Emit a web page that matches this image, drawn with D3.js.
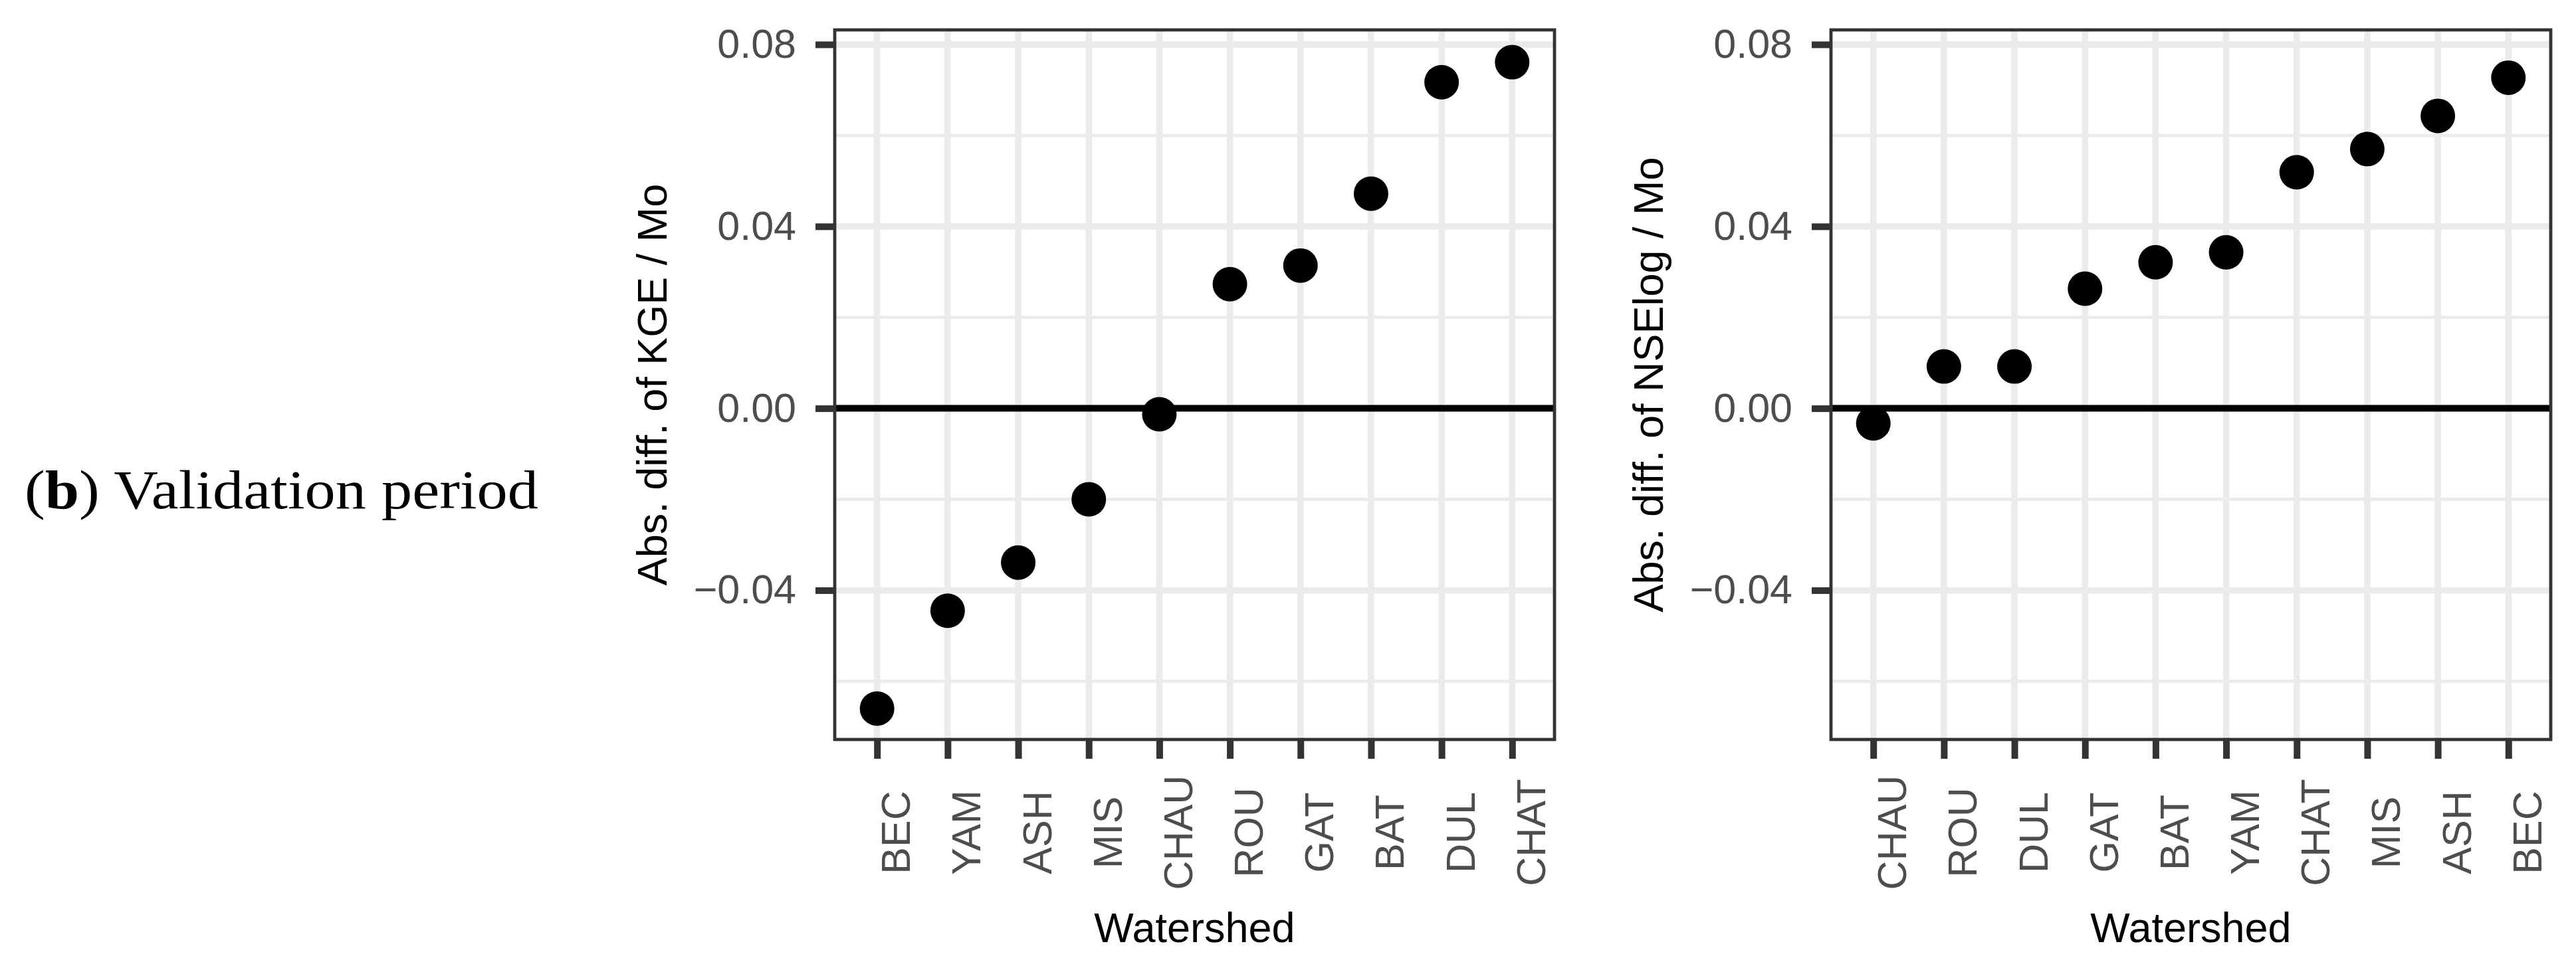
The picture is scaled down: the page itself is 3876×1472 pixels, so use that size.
<!DOCTYPE html>
<html>
<head>
<meta charset="utf-8">
<title>Validation period - abs. diff. per watershed</title>
<script src="https://cdn.jsdelivr.net/npm/d3@7"></script>
<style>
	html, body { margin: 0; padding: 0; background: #ffffff; }
	svg { display: block; }
</style>
</head>
<body>
<div id="chart"></div>
<script>

/**
 * Two dot plots (KGE and NSElog) of the absolute difference per watershed,
 * validation period.
 */

// Left panel : KGE
var kgeWatersheds = ["BEC", "YAM", "ASH", "MIS", "CHAU", "ROU", "GAT", "BAT", "DUL", "CHAT"];
var kgeDiffs = [-0.0660, -0.0445, -0.0339, -0.0200, -0.0013, 0.0273, 0.0314, 0.0472, 0.0717, 0.0761];

// Right panel : NSElog
var nseWatersheds = ["CHAU", "ROU", "DUL", "GAT", "BAT", "YAM", "CHAT", "MIS", "ASH", "BEC"];
var nseDiffs = [-0.0033, 0.0092, 0.0092, 0.0263, 0.0321, 0.0343, 0.0519, 0.0570, 0.0643, 0.0727];

// Shared y axis
var yTickValues = [0.08, 0.04, 0.00, -0.04];
var yMinorValues = [0.06, 0.02, -0.02, -0.06];
var yDomain = [-0.0728, 0.0832];

var periodLabel = "Validation period";
var xTitle = "Watershed";

var W = 3876;
var H = 1472;
var panelTop = 45;
var panelHeight = 1068;
var panelWidth = 1083;

var sansFont = "'Liberation Sans', Arial, Helvetica, sans-serif";
var serifFont = "'Liberation Serif', 'Times New Roman', serif";

var svg = d3.select("#chart").append("svg")
			.attr("width", W)
			.attr("height", H)
			.attr("viewBox", "0 0 " + W + " " + H);

svg.append("rect")
	.attr("width", W)
	.attr("height", H)
	.attr("fill", "#ffffff");

/******************************************************
 * drawPanel
 *
 * Draws one ggplot-like theme_bw panel with its axes.
 *******************************************************/
function drawPanel(left, cats, values, yTitle) {

	console.log("drawPanel called for " + yTitle);

	var x = d3.scalePoint()
				.domain(cats)
				.range([0, panelWidth])
				.padding(0.6);

	var y = d3.scaleLinear()
				.domain(yDomain)
				.range([panelHeight, 0]);

	var g = svg.append("g")
				.attr("transform", "translate(" + left + "," + panelTop + ")");

	g.append("rect")
		.attr("width", panelWidth)
		.attr("height", panelHeight)
		.attr("fill", "#ffffff");

	// minor grid
	g.selectAll("line.minor").data(yMinorValues)
		.enter().append("line")
			.attr("class", "minor")
			.attr("x1", 0)
			.attr("x2", panelWidth)
			.attr("y1", function (d) { return y(d); })
			.attr("y2", function (d) { return y(d); })
			.attr("stroke", "#ebebeb")
			.attr("stroke-width", 4.8);

	// major grid
	g.selectAll("line.majorY").data(yTickValues)
		.enter().append("line")
			.attr("class", "majorY")
			.attr("x1", 0)
			.attr("x2", panelWidth)
			.attr("y1", function (d) { return y(d); })
			.attr("y2", function (d) { return y(d); })
			.attr("stroke", "#ebebeb")
			.attr("stroke-width", 9.6);

	g.selectAll("line.majorX").data(cats)
		.enter().append("line")
			.attr("class", "majorX")
			.attr("x1", function (d) { return x(d); })
			.attr("x2", function (d) { return x(d); })
			.attr("y1", 0)
			.attr("y2", panelHeight)
			.attr("stroke", "#ebebeb")
			.attr("stroke-width", 9.6);

	// zero line
	g.append("line")
		.attr("x1", 0)
		.attr("x2", panelWidth)
		.attr("y1", y(0))
		.attr("y2", y(0))
		.attr("stroke", "#000000")
		.attr("stroke-width", 10);

	// points
	g.selectAll("circle").data(values)
		.enter().append("circle")
			.attr("cx", function (d, i) { return x(cats[i]); })
			.attr("cy", function (d) { return y(d); })
			.attr("r", 26)
			.attr("fill", "#000000");

	// border
	g.append("rect")
		.attr("width", panelWidth)
		.attr("height", panelHeight)
		.attr("fill", "none")
		.attr("stroke", "#333333")
		.attr("stroke-width", 4.8);

	// y axis
	var yAxis = g.append("g")
		.call(d3.axisLeft(y)
				.tickValues(yTickValues)
				.tickSize(29)
				.tickPadding(29)
				.tickFormat(d3.format(".2f")));

	yAxis.select(".domain").remove();
	yAxis.selectAll(".tick line")
		.attr("stroke", "#333333")
		.attr("stroke-width", 10);
	yAxis.selectAll(".tick text")
		.attr("fill", "#4d4d4d")
		.style("font-family", sansFont)
		.style("font-size", "61px");

	// x axis
	var xAxis = g.append("g")
		.attr("transform", "translate(0," + panelHeight + ")")
		.call(d3.axisBottom(x).tickSize(29));

	xAxis.select(".domain").remove();
	xAxis.selectAll(".tick line")
		.attr("stroke", "#333333")
		.attr("stroke-width", 10);
	xAxis.selectAll(".tick text")
		.attr("x", 0)
		.attr("y", 0)
		.attr("dy", null)
		.attr("text-anchor", "middle")
		.attr("transform", "translate(49,140) rotate(-90)")
		.attr("fill", "#4d4d4d")
		.style("font-family", sansFont)
		.style("font-size", "61px");

	// axis titles
	g.append("text")
		.attr("transform", "translate(-253," + (panelHeight / 2) + ") rotate(-90)")
		.attr("text-anchor", "middle")
		.attr("fill", "#000000")
		.style("font-family", sansFont)
		.style("font-size", "63px")
		.text(yTitle);

	g.append("text")
		.attr("x", panelWidth / 2)
		.attr("y", 1418 - panelTop)
		.attr("text-anchor", "middle")
		.attr("fill", "#000000")
		.style("font-family", sansFont)
		.style("font-size", "63px")
		.text(xTitle);

	return;
}

// Row label
var rowLabel = svg.append("text")
		.attr("x", 37)
		.attr("y", 765)
		.attr("fill", "#000000")
		.attr("textLength", 773)
		.attr("lengthAdjust", "spacingAndGlyphs")
		.style("font-family", serifFont)
		.style("font-size", "83px");

rowLabel.append("tspan").text("(");
rowLabel.append("tspan").style("font-weight", "bold").text("b");
rowLabel.append("tspan").text(") " + periodLabel);

drawPanel(1256, kgeWatersheds, kgeDiffs, "Abs. diff. of KGE / Mo");
drawPanel(2755, nseWatersheds, nseDiffs, "Abs. diff. of NSElog / Mo");

</script>
</body>
</html>
